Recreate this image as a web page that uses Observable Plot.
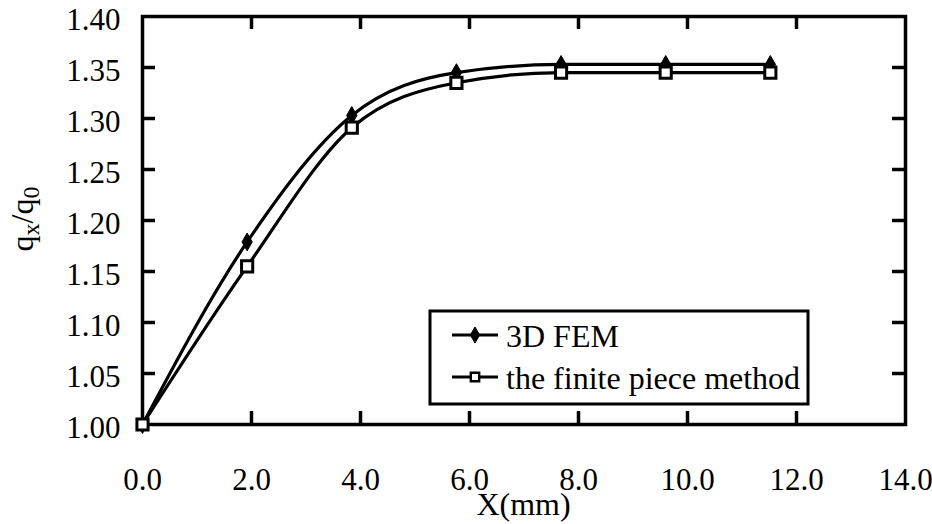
<!DOCTYPE html>
<html>
<head>
<meta charset="utf-8">
<script src="https://cdn.jsdelivr.net/npm/d3@7"></script>
<script src="https://cdn.jsdelivr.net/npm/@observablehq/plot@0.6"></script>
<style>
  html, body { margin: 0; padding: 0; background: #fff; }
  svg { display: block; }
</style>
</head>
<body>
<div id="chart"></div>
<script>
// ---- data ----
const xPositions   = [0, 1.92, 3.84, 5.76, 7.68, 9.6, 11.52];
const femValues    = [1.000, 1.179, 1.303, 1.345, 1.353, 1.353, 1.353];
const finiteValues = [1.000, 1.155, 1.291, 1.335, 1.345, 1.345, 1.345];
const seriesNames  = ["3D FEM", "the finite piece method"];
const xTicks = [0, 2, 4, 6, 8, 10, 12, 14];
const yTicks = [1.00, 1.05, 1.10, 1.15, 1.20, 1.25, 1.30, 1.35, 1.40];
const xLabel = "X(mm)";

// ---- layout ----
const W = 932, H = 524;
const mL = 142, mR = 27, mT = 16, mB = 100;
const plotW = W - mL - mR, plotH = H - mT - mB;
const tickLen = 13;
const FONT = "'Liberation Serif','Times New Roman',Times,serif";

const femData = xPositions.map((x, i) => ({x, y: femValues[i]}));
const finData = xPositions.map((x, i) => ({x, y: finiteValues[i]}));
const innerX = xTicks.slice(1, -1);
const innerY = yTicks.slice(1, -1);

const chart = Plot.plot({
  width: W, height: H,
  marginLeft: mL, marginRight: mR, marginTop: mT, marginBottom: mB,
  style: {fontFamily: FONT, fontSize: "31px", color: "black", background: "white", overflow: "visible"},
  x: {domain: [xTicks[0], xTicks[xTicks.length - 1]]},
  y: {domain: [yTicks[0], yTicks[yTicks.length - 1]]},
  marks: [
    Plot.axisX(xTicks, {tickSize: 0, tickPadding: 43, tickFormat: d3.format(".1f"), fontSize: 31, label: null}),
    Plot.axisY(yTicks, {tickSize: 0, tickPadding: 22, tickFormat: d3.format(".2f"), fontSize: 31, dy: 4, label: null}),
    // inward ticks on all four sides
    Plot.tickX(innerX, {x: d => d, insetTop: plotH - tickLen, stroke: "black", strokeWidth: 3.5}),
    Plot.tickX(innerX, {x: d => d, insetBottom: plotH - tickLen, stroke: "black", strokeWidth: 3.5}),
    Plot.tickY(innerY, {y: d => d, insetRight: plotW - tickLen, stroke: "black", strokeWidth: 3.5}),
    Plot.tickY(innerY, {y: d => d, insetLeft: plotW - tickLen, stroke: "black", strokeWidth: 3.5}),
    Plot.frame({stroke: "black", strokeWidth: 3.5}),
    Plot.line(femData, {x: "x", y: "y", curve: "monotone-x", stroke: "black", strokeWidth: 3.2}),
    Plot.line(finData, {x: "x", y: "y", curve: "monotone-x", stroke: "black", strokeWidth: 3.2}),
    Plot.dot(femData, {x: "x", y: "y", symbol: "diamond", r: 5.4, fill: "black", stroke: "black", strokeWidth: 1}),
    Plot.dot(finData, {x: "x", y: "y", symbol: "square", r: 6.3, fill: "white", stroke: "black", strokeWidth: 3})
  ]
});

document.getElementById("chart").appendChild(chart);

const svg = d3.select(chart);
const xs = chart.scale("x");

// ---- axis titles ----
svg.append("text")
  .attr("x", (xs.apply(xTicks[0]) + xs.apply(xTicks[xTicks.length - 1])) / 2).attr("y", 515)
  .attr("text-anchor", "middle")
  .attr("font-family", FONT).attr("font-size", 32).attr("fill", "black")
  .text(xLabel);

const yl = svg.append("text")
  .attr("transform", "translate(33,219) rotate(-90)")
  .attr("text-anchor", "middle")
  .attr("font-family", FONT).attr("font-size", 32).attr("fill", "black");
yl.append("tspan").text("q");
yl.append("tspan").attr("font-size", 24).attr("dy", 6).text("x");
yl.append("tspan").attr("dy", -6).text("/q");
yl.append("tspan").attr("font-size", 24).attr("dy", 6).text("0");

// ---- legend ----
const lg = svg.append("g");
lg.append("rect")
  .attr("x", 430).attr("y", 311).attr("width", 378).attr("height", 93)
  .attr("fill", "white").attr("stroke", "black").attr("stroke-width", 3);

const rows = [
  {name: seriesNames[0], y: 335, sym: d3.symbolDiamond, size: 75, fill: "black", sw: 1},
  {name: seriesNames[1], y: 377, sym: d3.symbolSquare, size: 70, fill: "white", sw: 2.4}
];
rows.forEach(r => {
  lg.append("line").attr("x1", 452).attr("x2", 498).attr("y1", r.y).attr("y2", r.y)
    .attr("stroke", "black").attr("stroke-width", 3.2);
  lg.append("path").attr("d", d3.symbol(r.sym, r.size)())
    .attr("transform", `translate(475,${r.y})`)
    .attr("fill", r.fill).attr("stroke", "black").attr("stroke-width", r.sw);
  lg.append("text").attr("x", 506).attr("y", r.y + 11.5)
    .attr("text-anchor", "start")
    .attr("font-family", FONT).attr("font-size", 32).attr("fill", "black")
    .text(r.name);
});
</script>
</body>
</html>
